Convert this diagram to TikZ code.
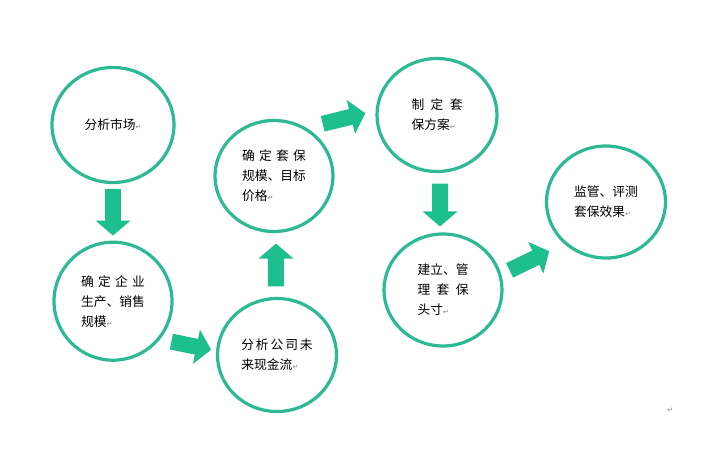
\documentclass[tikz,border=0pt]{standalone}
\usepackage{fontspec}
\newfontfamily\cjkfont{Noto Sans CJK SC}
\newfontfamily\markfont{DejaVu Sans}
\usetikzlibrary{shapes.geometric,positioning,arrows.meta}

\definecolor{ringgreen}{HTML}{2DB993}
\definecolor{arrowgreen}{HTML}{1DBF8F}

\newcommand{\enter}{{\markfont\fontsize{7}{7}\selectfont\textcolor{gray}{↵}}}
\newcommand{\spread}[2]{\makebox[#1][s]{#2}}

\begin{document}
\begin{tikzpicture}[x=1pt,y=-1pt]

        \def\d{56.5pt}

        % Rings for the steps and the block arrows between them
        \tikzset{
            ring/.style={ellipse, draw=ringgreen, line width=3.2pt,
                minimum width=119pt, minimum height=113pt, inner sep=0pt,
                align=left, font=\cjkfont\fontsize{12.75}{20}\selectfont},
            flow/.style={draw=arrowgreen, line width=16pt,
                -{Triangle[width=34pt,length=15pt]}}
        }

        \useasboundingbox (0,0) rectangle (703,454);

        % Scope with the seven steps
        \begin{scope}
            \node[ring, minimum width=122pt, minimum height=115pt] (S1)
            at (113,125) {分析市场\enter};
            \node[ring, minimum width=118pt, minimum height=118pt] (S2)
            [below=\d of S1]
            {\spread{5em}{确\hfill 定\hfill 企\hfill 业}\\生产、销售\\规模\enter};
            \node[ring] (S3) at (277,355)
            {\spread{5.6em}{分\hfill 析\hfill 公\hfill 司\hfill 未}\\来现金流\enter};
            \node[ring, minimum width=118pt, minimum height=111pt] (S4)
            at (274,176)
            {\spread{5em}{确\hfill 定\hfill 套\hfill 保}\\规模、目标\\价格\enter};
            \node[ring, minimum width=120pt] (S5) at (437,115)
            {\spread{4em}{制\hfill 定\hfill 套}\\保方案\enter};
            \node[ring, minimum width=118pt, minimum height=112pt] (S6)
            at (443,290)
            {建立、管\\\spread{4em}{理\hfill 套\hfill 保}\\头寸\enter};
            \node[ring, minimum height=112pt] (S7) at (606,202)
            {监管、评测\\套保效果\enter};
            \node (P0) at (670,410) {\enter};
        \end{scope}

        \begin{scope}[flow]
            \draw[shorten <=4.5pt, shorten >=5pt] (S1.south) -- (S2.north);
            \draw[shorten <=11.5pt, shorten >=5pt] (S2.-39) -- (S3.176);
            \draw[shorten <=10.5pt, shorten >=10.5pt] (S3.91.5) -- (S4.-88);
            \draw[shorten <=16.7pt, shorten >=10.5pt] (S4.56) -- (S5.176);
            \draw[shorten <=10.5pt, shorten >=6pt] (S5.-87) -- (S6.93);
            \draw[shorten <=9.2pt, shorten >=16.5pt] (S6.15) -- (S7.225);
        \end{scope}

\end{tikzpicture}
\end{document}
